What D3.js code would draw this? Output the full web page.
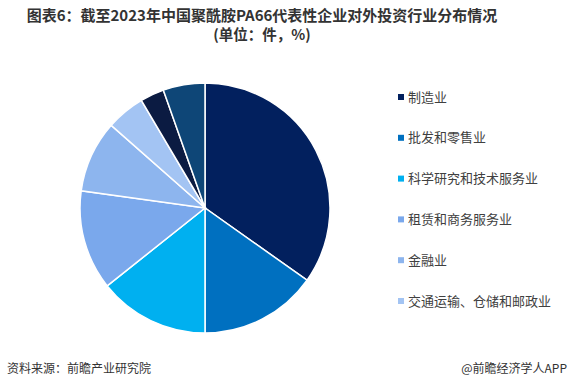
<!DOCTYPE html>
<html><head><meta charset="utf-8">
<script src="https://cdn.jsdelivr.net/npm/d3@7"></script>
<style>body{margin:0;background:#fff;}svg{display:block;font-family:"Noto Sans CJK SC","Noto Sans",sans-serif;}</style>
</head><body>
<svg id="c" width="571" height="391"></svg>
<script>
const categories = ["制造业","批发和零售业","科学研究和技术服务业","租赁和商务服务业","金融业","交通运输、仓储和邮政业","其他1","其他2"];
const values = [34.8, 15.2, 14.3, 12.9, 9.3, 5.0, 3.1, 5.4];
const colors = ["#02205E","#0070C0","#00B0F0","#7AA8EC","#8DB5EE","#A3C4F3","#0B1B42","#0E4677"];
const legendCount = 6;

const svg = d3.select("#c");
// title
svg.append("text").attr("x",262).attr("y",21).attr("text-anchor","middle")
  .attr("font-size",15).attr("font-weight","bold").attr("fill","#333").text("图表6：截至2023年中国聚酰胺PA66代表性企业对外投资行业分布情况");
svg.append("text").attr("x",262).attr("y",40).attr("text-anchor","middle")
  .attr("font-size",14.5).attr("font-weight","bold").attr("fill","#333").text("(单位：件，%)");

const cx=205, cy=208, r=125;
const pie = d3.pie().sort(null).value(d=>d)(values);
const arc = d3.arc().innerRadius(0).outerRadius(r);
svg.append("g").attr("transform",`translate(${cx},${cy})`)
  .selectAll("path").data(pie).join("path")
  .attr("d",arc).attr("fill",(d,i)=>colors[i]).attr("stroke","#fff").attr("stroke-width",1.5);

const lg = svg.append("g");
const ly = d3.scalePoint().domain(categories.slice(0,legendCount)).range([97,301]);
categories.slice(0,legendCount).forEach((c,i)=>{
  lg.append("rect").attr("x",398).attr("y",ly(c)-3).attr("width",6).attr("height",6).attr("fill",colors[i]);
  lg.append("text").attr("x",408).attr("y",ly(c)+4.5).attr("font-size",13).attr("fill","#404040").text(c);
});

svg.append("text").attr("x",7).attr("y",373).attr("font-size",12).attr("fill","#333").text("资料来源：前瞻产业研究院");
svg.append("text").attr("x",567).attr("y",373).attr("text-anchor","end").attr("font-size",12).attr("fill","#333").text("@前瞻经济学人APP");
</script>
</body></html>
